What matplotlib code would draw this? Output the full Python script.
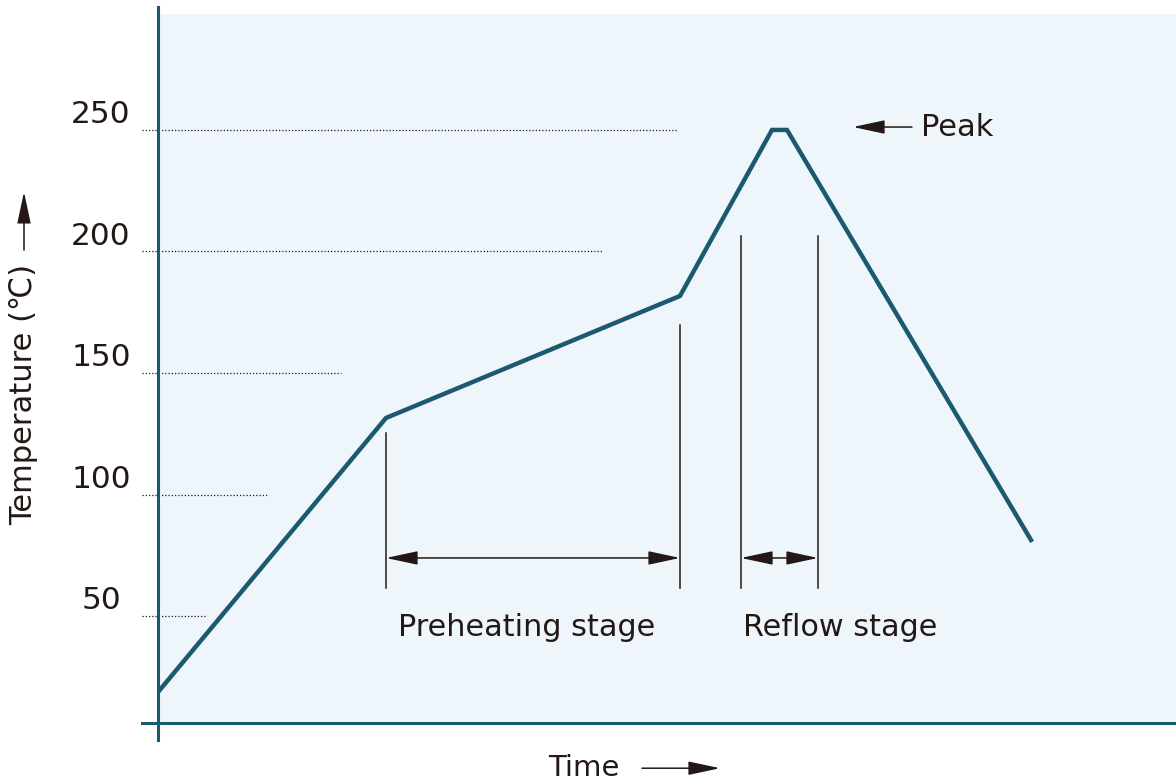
import matplotlib.pyplot as plt

# reflow profile (time in arbitrary units, temperature in degC)
time_pts = [0, 22.8, 52.2, 61.4, 62.9, 87.3]
temp_pts = [18.7, 131.5, 181.7, 250, 250, 81.3]

tick_vals = [50, 100, 150, 200, 250]
tick_labels = ['50', '100', '150', '200', '250']
guide_ends = [4.7, 10.9, 18.3, 44.5, 52.0]  # where each dotted guide stops

preheat_span = (22.8, 52.2)
reflow_span = (58.3, 66.0)

line_col = '#1B5A6E'
text_col = '#231815'
bg_col = '#EEF6FC'
fam = ['DejaVu Sans', 'Noto Sans CJK JP']

fig = plt.figure(figsize=(11.76, 7.84), dpi=100)
ax = fig.add_axes([158 / 1176, 61 / 784, 1018 / 1176, 709 / 784])
ax.set_facecolor(bg_col)
ax.set_xlim(0, 101.8)
ax.set_ylim(6, 297.7)
for s in ax.spines.values():
    s.set_visible(False)
ax.set_xticks([])
ax.set_yticks([])

# axis lines
ax.plot([0, 0], [-1, 300.6], color=line_col, lw=2.2, clip_on=False, zorder=5)
ax.plot([-1.6, 101.8], [6, 6], color=line_col, lw=2.2, clip_on=False, zorder=5)

# dotted guides + tick labels
for v, lab, end in zip(tick_vals, tick_labels, guide_ends):
    ax.plot([-1.6, end], [v, v], color=text_col, lw=0.9, ls=(0, (1, 1.6)), clip_on=False)
    ax.text(-5.7, v + 6.2, lab, ha='center', va='center', fontsize=22.5,
            color=text_col, family=fam, clip_on=False)

# profile curve
ax.plot(time_pts, temp_pts, color=line_col, lw=3.2, solid_joinstyle='miter', zorder=4)

# stage markers
ax.plot([preheat_span[0]] * 2, [61.5, 125.3], color=text_col, lw=1.1)
ax.plot([preheat_span[1]] * 2, [61.5, 169.8], color=text_col, lw=1.1)
ax.plot([reflow_span[0]] * 2, [61.5, 206.4], color=text_col, lw=1.1)
ax.plot([reflow_span[1]] * 2, [61.5, 206.4], color=text_col, lw=1.1)

arr = dict(arrowstyle='<|-|>,head_length=1.4,head_width=0.3', color=text_col,
           lw=1.1, shrinkA=0, shrinkB=0, mutation_scale=14)
ax.annotate('', xy=(preheat_span[1], 73.9), xytext=(preheat_span[0], 73.9), arrowprops=arr)
ax.annotate('', xy=(reflow_span[1], 73.9), xytext=(reflow_span[0], 73.9), arrowprops=arr)

ax.text(36.9, 45.1, 'Preheating stage', ha='center', va='center',
        fontsize=21.8, color=text_col, family=fam)
ax.text(68.2, 45.1, 'Reflow stage', ha='center', va='center',
        fontsize=21.8, color=text_col, family=fam)

# peak annotation
single = dict(arrowstyle='-|>,head_length=1.4,head_width=0.3', color=text_col,
              lw=1.1, shrinkA=0, shrinkB=0, mutation_scale=14)
ax.annotate('', xy=(69.5, 251.2), xytext=(75.4, 251.2), arrowprops=single)
ax.text(76.3, 251.2, 'Peak', ha='left', va='center', fontsize=22,
        color=text_col, family=fam)

# axis titles
ax.text(42.6, -12.6, 'Time', ha='center', va='center', fontsize=21,
        color=text_col, family=fam, clip_on=False)
ax.annotate('', xy=(56.2, -12.6), xytext=(48.4, -12.6), arrowprops=single,
            annotation_clip=False)

ax.text(-13.4, 141, 'Temperature (℃)', ha='center', va='center', rotation=90,
        fontsize=22, color=text_col, family=fam, clip_on=False)
ax.annotate('', xy=(-13.4, 224.5), xytext=(-13.4, 200.6), arrowprops=single,
            annotation_clip=False)

fig.savefig('out.png', dpi=100)
